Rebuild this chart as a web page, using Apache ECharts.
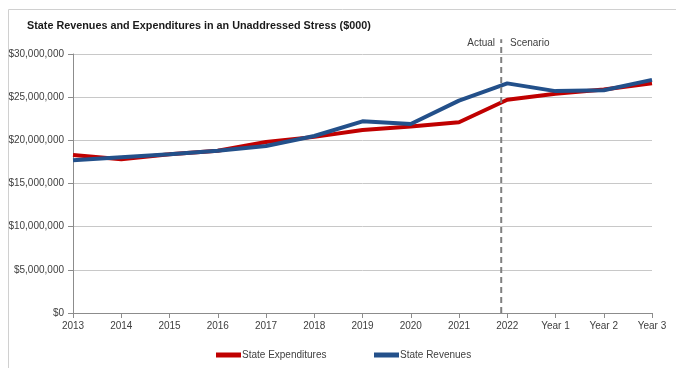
<!DOCTYPE html>
<html><head><meta charset="utf-8">
<script src="https://cdn.jsdelivr.net/npm/echarts@6/dist/echarts.min.js"></script>
<style>html,body{margin:0;padding:0;background:#fff}#c{width:676px;height:368px}</style>
</head><body><div id="c"></div>
<script>
const categories = ['2013','2014','2015','2016','2017','2018','2019','2020','2021','2022','Year 1','Year 2','Year 3'];
const expenditures = [18300000,17800000,18400000,18800000,19800000,20400000,21200000,21600000,22100000,24700000,25400000,25900000,26600000];
const revenues = [17700000,18050000,18400000,18800000,19350000,20500000,22200000,21900000,24600000,26600000,25700000,25800000,27000000];
const yTicks = [0,5000000,10000000,15000000,20000000,25000000,30000000];
const dividerPos = 8.875;   // between 2021 and 2022
const dividerTop = 31700000;
const dividerLabels = ['Actual','Scenario'];

const fmt = v => '$' + v.toLocaleString('en-US');
const font = "'Liberation Sans',sans-serif";
const chart = echarts.init(document.getElementById('c'), null, {renderer:'canvas'});
const legendText = {fontFamily:font,fontSize:10,color:'#404040',padding:[0,0,0,-4]};
chart.setOption({
  animation:false,
  title:{text:'State Revenues and Expenditures in an Unaddressed Stress ($000)',left:22,top:16,
    textStyle:{fontFamily:'Liberation Sans',fontWeight:'bold',fontSize:10.8,color:'#1a1a1a'}},
  grid:{left:73,right:24,top:54,bottom:55},
  legend:[
    {bottom:3,left:211,itemWidth:25,itemHeight:5,icon:'rect',textStyle:legendText,data:['State Expenditures']},
    {bottom:3,left:369,itemWidth:25,itemHeight:5,icon:'rect',textStyle:legendText,data:['State Revenues']}
  ],
  xAxis:[{type:'category',data:categories,boundaryGap:false,
    axisLine:{lineStyle:{color:'#8c8c8c'}},axisTick:{show:true,length:5,lineStyle:{color:'#8c8c8c'}},
    axisLabel:{fontFamily:font,fontSize:10,color:'#404040',margin:8}},
   {type:'value',min:0,max:12,show:false}],
  yAxis:{type:'value',min:0,max:30000000,interval:5000000,
    axisLine:{show:true,lineStyle:{color:'#8c8c8c'}},axisTick:{show:true,length:5,lineStyle:{color:'#8c8c8c'}},
    splitLine:{lineStyle:{color:'#c8c8c8'}},
    axisLabel:{fontFamily:font,fontSize:10,color:'#404040',margin:9,formatter:v=>yTicks.includes(v)?fmt(v):''}},
  series:[
    {name:'State Expenditures',type:'line',data:expenditures,symbol:'none',z:3,
      lineStyle:{width:4,color:'#C00000'},itemStyle:{color:'#C00000'}},
    {name:'State Revenues',type:'line',data:revenues,symbol:'none',z:4,
      lineStyle:{width:4,color:'#23508A'},itemStyle:{color:'#23508A'}},
    {name:'divider',type:'line',xAxisIndex:1,data:[[dividerPos,0],[dividerPos,dividerTop]],symbol:'none',clip:false,
      lineStyle:{width:2,type:[6,4],color:'#808080'},z:5}
  ],
  graphic:[
    {type:'rect',left:6,top:7,shape:{width:700,height:400},style:{fill:'none',stroke:'#d0d0d0',lineWidth:1},z:-1,silent:true},
    {type:'text',right:676-495,top:38,style:{text:dividerLabels[0],font:'10px '+font,fill:'#404040',textAlign:'right'}},
    {type:'text',left:510,top:38,style:{text:dividerLabels[1],font:'10px '+font,fill:'#404040'}}
  ]
});
</script></body></html>
